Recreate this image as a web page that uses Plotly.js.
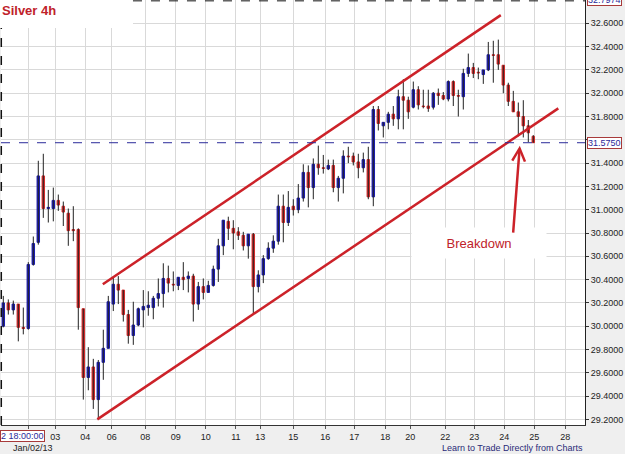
<!DOCTYPE html>
<html>
<head>
<meta charset="utf-8">
<script src="https://cdn.plot.ly/plotly-3.0.1.min.js"></script>
<style>html,body{margin:0;padding:0;background:#efefef;}#chart{width:625px;height:454px;}</style>
</head>
<body>
<div id="chart"></div>
<script>
// ---- data (4h bars, Silver) ----
const openP = [30.00,30.20,30.14,30.19,29.99,29.98,30.53,30.72,31.29,31.01,
  31.01,31.08,31.03,30.97,30.83,30.83,30.15,29.56,29.65,29.37,
  29.69,29.81,30.19,30.36,30.31,30.10,29.92,30.01,30.14,30.16,
  30.16,30.24,30.28,30.41,30.36,30.35,30.42,30.41,30.43,30.19,
  30.34,30.29,30.35,30.49,30.69,30.90,30.84,30.81,30.78,30.69,
  30.79,30.34,30.44,30.58,30.67,30.73,31.03,30.89,31.03,31.00,
  31.10,31.32,31.19,31.39,31.36,31.35,31.38,31.19,31.27,31.46,
  31.46,31.41,31.36,31.43,31.11,31.86,31.72,31.75,31.82,31.78,
  31.97,31.94,31.88,32.03,31.89,31.89,31.88,32.00,31.98,31.95,
  32.10,31.98,31.97,32.17,32.22,32.18,32.16,32.20,32.33,32.33,
  32.24,32.07,31.93,31.84,31.80,31.72,31.63];
const highP = [30.26,30.23,30.22,30.19,30.16,30.55,30.77,31.42,31.48,31.17,
  31.19,31.13,31.07,31.01,31.03,30.84,30.15,29.82,29.72,29.71,
  29.97,30.26,30.42,30.43,30.31,30.14,30.21,30.16,30.31,30.30,
  30.26,30.41,30.54,30.52,30.47,30.42,30.55,30.47,30.45,30.38,
  30.41,30.39,30.52,30.75,30.91,30.94,30.91,30.85,30.81,30.79,
  30.80,30.48,30.61,30.72,30.78,31.13,31.13,31.16,31.09,31.22,
  31.39,31.38,31.44,31.55,31.47,31.43,31.43,31.29,31.51,31.54,
  31.49,31.48,31.49,31.54,31.89,31.89,31.75,31.84,31.89,32.03,
  32.12,31.97,32.10,32.06,32.03,32.03,32.01,32.04,32.01,32.11,
  32.11,32.03,32.21,32.34,32.26,32.22,32.20,32.44,32.45,32.46,
  32.24,32.09,32.02,31.92,31.94,31.77,31.64];
const lowP = [29.99,30.10,30.10,29.87,29.93,29.97,30.52,30.70,30.93,30.89,
  30.90,30.99,30.86,30.69,30.73,29.97,29.37,29.45,29.29,29.21,
  29.54,29.81,30.13,30.19,30.04,29.85,29.84,30.00,29.99,30.09,
  30.06,30.17,30.16,30.29,30.30,30.31,30.31,30.29,30.04,30.14,
  30.23,30.29,30.34,30.38,30.61,30.74,30.66,30.74,30.65,30.58,
  30.11,30.29,30.37,30.57,30.63,30.70,30.72,30.86,30.95,30.97,
  31.07,31.02,31.09,31.30,31.31,31.34,31.15,31.07,31.14,31.40,
  31.38,31.27,31.32,31.09,31.03,31.68,31.62,31.69,31.72,31.69,
  31.69,31.78,31.87,31.86,31.87,31.84,31.86,31.90,31.94,31.93,
  31.89,31.80,31.86,32.14,32.13,32.12,32.08,32.19,32.09,32.20,
  32.00,31.89,31.84,31.63,31.62,31.58,31.575];
const closeP = [30.20,30.14,30.19,29.99,29.98,30.53,30.71,31.29,31.01,31.02,
  31.08,31.04,30.98,30.82,30.82,30.16,29.56,29.65,29.37,29.69,
  29.81,30.21,30.36,30.31,30.10,29.92,30.01,30.15,30.17,30.18,
  30.24,30.28,30.41,30.37,30.355,30.42,30.40,30.43,30.19,30.34,
  30.29,30.35,30.49,30.69,30.91,30.84,30.80,30.78,30.69,30.79,
  30.34,30.44,30.58,30.67,30.73,31.03,30.89,31.02,31.00,31.10,
  31.32,31.19,31.39,31.36,31.355,31.38,31.19,31.27,31.46,31.455,
  31.41,31.36,31.43,31.11,31.86,31.74,31.75,31.82,31.78,31.97,
  31.94,31.84,32.03,31.90,31.885,31.87,32.00,31.98,31.95,32.10,
  31.98,31.975,32.17,32.22,32.17,32.175,32.20,32.33,32.325,32.25,
  32.07,31.93,31.84,31.80,31.72,31.66,31.575];

// x-axis day labels and the bar index where each day starts
const tickLabels = ["", "03","04","06","08","09","10","11","13","15","16","17","18","20","22","23","24","25","28"];
const tickIdx = [5, 10.4, 16.4, 21.7, 28.4, 34.5, 40.5, 46.5, 51.4, 58, 64.4, 70.2, 76.4, 81.4, 88.4, 94.2, 100.2, 106.2, 112.4];
const priceTicks = [29.2,29.4,29.6,29.8,30.0,30.2,30.4,30.6,30.8,31.0,31.2,31.4,31.6,31.8,32.0,32.2,32.4,32.6];
const priceLabels = ["29.2000","29.4000","29.6000","29.8000","30.0000","30.2000","30.4000","30.6000","30.8000",
  "31.0000","31.2000","31.4000","","31.8000","32.0000","32.2000","32.4000","32.6000"];

// channel trend lines (bar index, price)
const upperX = [19.9, 99.5];
const upperY = [30.36, 32.67];
const lowerX = [18.8, 111.0];
const lowerY = [29.20, 31.87];

const lastPrice = 31.575;
const topPrice = 32.7974;
const breakIdx = 103.3, breakPrice = 31.55;
const labelIdx = 95.1, labelPrice = 30.71;
const tailIdx = 101.95, tailPrice = 30.79;

// ---- build ----
const idx = openP.map((_, i) => i);
const wx = [], wy = [];
idx.forEach(i => { wx.push(i, i, null); wy.push(lowP[i], highP[i], null); });

const RED = '#cc2229', BLUE = '#1c1cb0', BODYRED = '#d42a2a';

const traces = [
  {type:'scatter', mode:'lines', x:wx, y:wy, line:{color:'#222', width:1}, hoverinfo:'skip', showlegend:false},
  {type:'candlestick', x:idx, open:openP, close:closeP,
   high: idx.map(i => Math.max(openP[i], closeP[i])),
   low: idx.map(i => Math.min(openP[i], closeP[i])),
   whiskerwidth:0,
   increasing:{line:{color:BLUE, width:1}, fillcolor:BLUE},
   decreasing:{line:{color:BODYRED, width:1}, fillcolor:BODYRED},
   showlegend:false, hoverinfo:'skip'},
  {type:'scatter', mode:'lines', x:upperX, y:upperY, line:{color:RED, width:2.5}, showlegend:false, hoverinfo:'skip'},
  {type:'scatter', mode:'lines', x:lowerX, y:lowerY, line:{color:RED, width:2.5}, showlegend:false, hoverinfo:'skip'}
];

const FONT = 'Liberation Sans, Arial, sans-serif';
const layout = {
  width:625, height:454,
  margin:{l:1, r:40, t:0, b:29, pad:0},
  paper_bgcolor:'#efefef', plot_bgcolor:'#ffffff',
  font:{family:FONT, size:9, color:'#222'},
  showlegend:false,
  xaxis:{type:'linear', range:[-0.46, 116.34], tickvals:tickIdx, ticktext:tickLabels,
    showgrid:true, gridcolor:'#d9d9d9', gridwidth:1, zeroline:false,
    showline:true, linecolor:'#333', linewidth:1, ticks:'outside', ticklen:3, tickcolor:'#555',
    tickfont:{family:FONT, size:9, color:'#222'}, rangeslider:{visible:false}, fixedrange:true},
  yaxis:{side:'right', range:[29.152, 32.8], tickvals:priceTicks, ticktext:priceLabels,
    showgrid:true, gridcolor:'#d9d9d9', gridwidth:1, zeroline:false,
    showline:true, linecolor:'#222', linewidth:1, ticks:'outside', ticklen:3, tickcolor:'#333',
    tickfont:{family:FONT, size:9, color:'#222'}, fixedrange:true},
  shapes:[
    {type:'line', xref:'paper', yref:'y', x0:0, x1:1, y0:lastPrice, y1:lastPrice, line:{color:'#2b2b9a', width:1, dash:'dash'}},
    {type:'rect', xref:'paper', yref:'paper', x0:-0.01, x1:0.226, y0:0.934, y1:1.01, fillcolor:'#ffffff', line:{width:0}, layer:'above'},
    {type:'line', xref:'paper', yref:'paper', x0:0.226, x1:1, y0:0.998, y1:0.998, line:{color:'#111', width:1, dash:'dash'}},
    {type:'line', xref:'paper', yref:'paper', x0:0.0005, x1:0.0005, y0:0, y1:0.934, line:{color:'#111', width:1.5, dash:'dash'}}
  ],
  annotations:[
    {xref:'paper', yref:'paper', x:0, y:1, xanchor:'left', yanchor:'top', xshift:-1, yshift:-1, showarrow:false,
     text:'<b>Silver 4h</b>', font:{family:FONT, size:13, color:'#c0222a'}},
    {xref:'x', yref:'y', x:labelIdx, y:labelPrice, showarrow:false, text:'Breakdown',
     font:{family:FONT, size:13, color:'#c0222a'}, bgcolor:'#ffffff', width:132, height:28},
    {xref:'x', yref:'y', x:breakIdx, y:breakPrice, axref:'x', ayref:'y', ax:tailIdx, ay:tailPrice, text:'',
     showarrow:true, arrowhead:5, arrowsize:1, arrowwidth:2.5, arrowcolor:RED},
    {xref:'paper', yref:'y', x:1, y:lastPrice, xanchor:'left', yanchor:'middle', xshift:2, showarrow:false,
     text:'31.5750', font:{family:FONT, size:9, color:'#2b2b9a'}, bgcolor:'#ffffff', bordercolor:'#a83a3a', borderwidth:1, borderpad:0},
    {xref:'paper', yref:'y', x:1, y:topPrice, xanchor:'left', yanchor:'middle', xshift:2, showarrow:false,
     text:'32.7974', font:{family:FONT, size:9, color:'#2b2b9a'}, bgcolor:'#ffffff', bordercolor:'#a83a3a', borderwidth:1, borderpad:0},
    {xref:'paper', yref:'paper', x:0, y:0, xanchor:'left', yanchor:'top', xshift:-1, yshift:-5, showarrow:false,
     text:'2 18:00:00', font:{family:FONT, size:9, color:'#2b2b9a'}, bgcolor:'#ffffff', bordercolor:'#a83a3a', borderwidth:1, borderpad:0},
    {xref:'paper', yref:'paper', x:0.017, y:0, xanchor:'left', yanchor:'top', yshift:-16, showarrow:false,
     text:'Jan/02/13', font:{family:FONT, size:9, color:'#222'}},
    {xref:'paper', yref:'paper', x:1, y:0, xanchor:'right', yanchor:'top', yshift:-16, showarrow:false,
     text:'Learn to Trade Directly from Charts', font:{family:FONT, size:9, color:'#2a2a78'}}
  ]
};

Plotly.newPlot('chart', traces, layout, {displayModeBar:false, staticPlot:true});
</script>
</body>
</html>
